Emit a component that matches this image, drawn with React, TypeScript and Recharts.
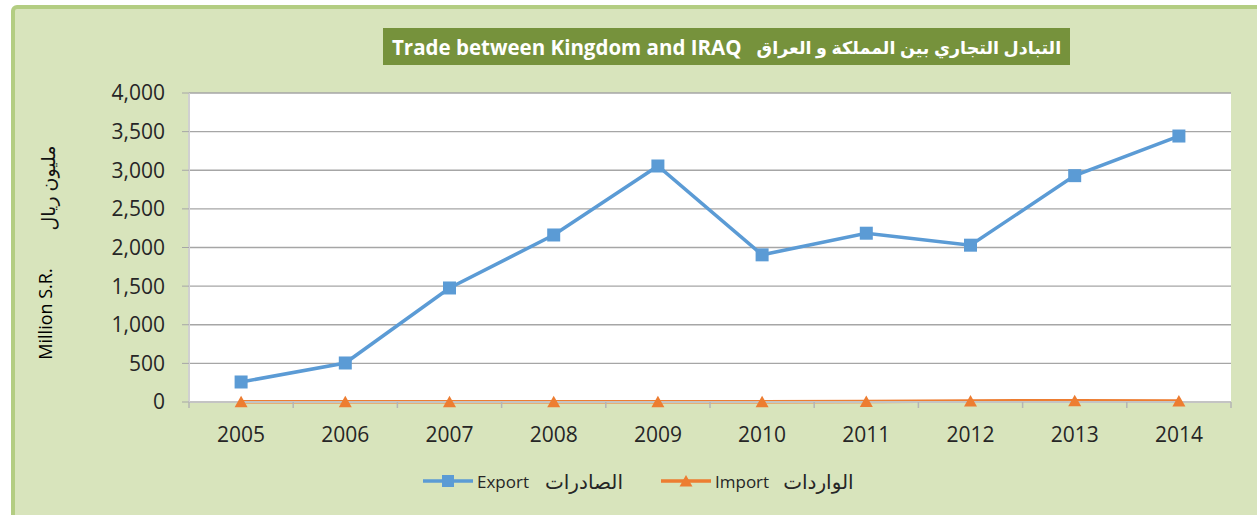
import React from 'react';
import { LineChart, Line, XAxis, YAxis, CartesianGrid } from 'recharts';

const years = ['2005', '2006', '2007', '2008', '2009', '2010', '2011', '2012', '2013', '2014'];
const exportValues = [259, 505, 1476, 2162, 3055, 1905, 2185, 2030, 2930, 3443];
const importValues = [3, 3, 3, 4, 3, 4, 6, 14, 16, 12];
const yTicks = [0, 500, 1000, 1500, 2000, 2500, 3000, 3500, 4000];

const titleEn = 'Trade between Kingdom and IRAQ';
const titleAr = 'التبادل التجاري بين المملكة و العراق';
const yLabelEn = 'Million S.R.';
const yLabelAr = 'مليون ريال';
const exportName = 'Export';
const exportNameAr = 'الصادرات';
const importName = 'Import';
const importNameAr = 'الواردات';

const data = years.map((y, i) => ({ year: y, exp: exportValues[i], imp: importValues[i] }));

const W = 1257;
const H = 515;
const M = { top: 93, right: 26, left: 129, bottom: 73 };
const Y_AXIS_W = 60;
const X_AXIS_H = 40;
const plotW = W - M.left - Y_AXIS_W - M.right;
const halfBand = plotW / years.length / 2;

const EXPORT_COLOR = '#5b9bd5';
const IMPORT_COLOR = '#ed7d31';
const FONT = '"Open Sans", "DejaVu Sans", sans-serif';

const SquareDot = (props: any) => {
  const { cx, cy } = props;
  if (cx == null || cy == null) return null;
  return <rect x={cx - 6.5} y={cy - 6.5} width={13} height={13} fill={EXPORT_COLOR} />;
};

const TriDot = (props: any) => {
  const { cx, cy } = props;
  if (cx == null || cy == null) return null;
  return <polygon points={`${cx},${cy - 6} ${cx + 6.5},${cy + 5.5} ${cx - 6.5},${cy + 5.5}`} fill={IMPORT_COLOR} />;
};

const XTick = (props: any) => {
  const { x, y, payload, index } = props;
  const last = index === years.length - 1;
  return (
    <g>
      <line x1={x - halfBand} x2={x - halfBand} y1={y} y2={y + 6} stroke="#b5b5b5" strokeWidth={1.5} />
      {last && <line x1={x + halfBand} x2={x + halfBand} y1={y} y2={y + 6} stroke="#b5b5b5" strokeWidth={1.5} />}
      <text x={x} y={y + 40} textAnchor="middle" fill="#262626" fontSize={21} fontFamily={FONT}>
        {payload.value}
      </text>
    </g>
  );
};

const fmt = (v: number) => v.toLocaleString('en-US');

export default function App() {
  return (
    <div style={{ position: 'absolute', left: 0, top: 0, width: W, height: H, overflow: 'hidden', background: '#fff', fontFamily: FONT }}>
      <div
        style={{
          position: 'absolute',
          left: 11,
          top: 5,
          width: W + 20,
          height: H + 20,
          background: '#d8e4bc',
          border: '4px solid #b3cd82',
          borderRadius: 6,
          boxSizing: 'border-box',
        }}
      />
      <div style={{ position: 'absolute', left: 0, top: 0 }}>
        <LineChart width={W} height={H} data={data} margin={M}>
          <CartesianGrid vertical={false} stroke="#a6a6a6" strokeWidth={1.3} fill="#ffffff" />
          <XAxis
            dataKey="year"
            height={X_AXIS_H}
            tickLine={false}
            tickSize={0}
            tickMargin={0}
            padding={{ left: halfBand, right: halfBand }}
            axisLine={{ stroke: '#c4c4c4', strokeWidth: 2 }}
            tick={<XTick />}
            interval={0}
          />
          <YAxis
            width={Y_AXIS_W}
            domain={[0, 4000]}
            ticks={yTicks}
            tickFormatter={fmt}
            tickSize={7}
            tickMargin={17}
            tickLine={{ stroke: '#a6a6a6' }}
            axisLine={{ stroke: '#d0d0d0', strokeWidth: 2 }}
            tick={{ fill: '#262626', fontSize: 21, fontFamily: FONT }}
            interval={0}
          />
          <Line dataKey="exp" name={exportName} stroke={EXPORT_COLOR} strokeWidth={3.5} dot={<SquareDot />} activeDot={false} isAnimationActive={false} />
          <Line dataKey="imp" name={importName} stroke={IMPORT_COLOR} strokeWidth={3.5} dot={<TriDot />} activeDot={false} isAnimationActive={false} />
        </LineChart>
      </div>
      <div
        style={{
          position: 'absolute',
          left: 383,
          top: 28,
          width: 687,
          height: 37,
          background: '#76923c',
          color: '#fff',
          fontWeight: 'bold',
          fontSize: 20.5,
          display: 'flex',
          alignItems: 'center',
          paddingLeft: 9,
          boxSizing: 'border-box',
          whiteSpace: 'nowrap',
          overflow: 'hidden',
        }}
      >
        <span>{titleEn}</span>
        <span dir="rtl" style={{ marginLeft: 15, fontSize: 17.5 }}>{titleAr}</span>
      </div>
      <div
        style={{
          position: 'absolute',
          left: 45,
          top: 314,
          transform: 'translate(-50%, -50%) rotate(-90deg)',
          fontSize: 18,
          color: '#000',
          whiteSpace: 'nowrap',
        }}
      >
        {yLabelEn}
      </div>
      <div
        dir="rtl"
        style={{
          position: 'absolute',
          left: 48,
          top: 188,
          transform: 'translate(-50%, -50%) rotate(-90deg)',
          fontSize: 19,
          color: '#111',
          whiteSpace: 'nowrap',
        }}
      >
        {yLabelAr}
      </div>
      <div style={{ position: 'absolute', left: 423, top: 468, height: 26, display: 'flex', alignItems: 'center', fontSize: 17, color: '#262626', whiteSpace: 'nowrap' }}>
        <svg width={50} height={20} style={{ display: 'block' }}>
          <line x1={0} x2={50} y1={10} y2={10} stroke={EXPORT_COLOR} strokeWidth={3.5} />
          <rect x={19} y={4} width={12} height={12} fill={EXPORT_COLOR} />
        </svg>
        <span style={{ marginLeft: 4 }}>{exportName}</span>
        <span dir="rtl" style={{ marginLeft: 16, fontSize: 20 }}>{exportNameAr}</span>
      </div>
      <div style={{ position: 'absolute', left: 661, top: 468, height: 26, display: 'flex', alignItems: 'center', fontSize: 17, color: '#262626', whiteSpace: 'nowrap' }}>
        <svg width={50} height={20} style={{ display: 'block' }}>
          <line x1={0} x2={50} y1={10} y2={10} stroke={IMPORT_COLOR} strokeWidth={3.5} />
          <polygon points="25,4 31.5,15.5 18.5,15.5" fill={IMPORT_COLOR} />
        </svg>
        <span style={{ marginLeft: 4 }}>{importName}</span>
        <span dir="rtl" style={{ marginLeft: 14, fontSize: 20 }}>{importNameAr}</span>
      </div>
    </div>
  );
}
